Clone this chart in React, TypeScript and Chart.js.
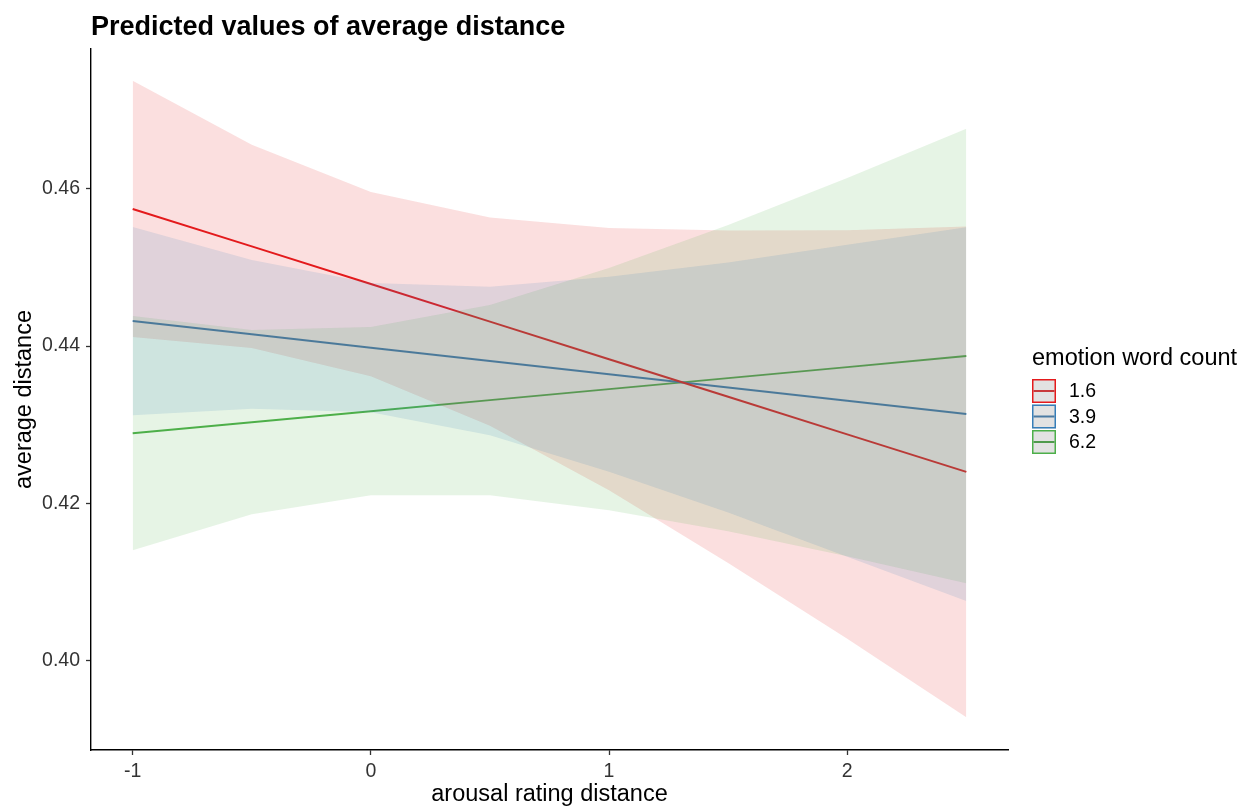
import React, { useEffect, useRef } from "react";
import { Chart, registerables } from "chart.js";

Chart.register(...registerables);

// ---- data ----
const xValues = [-1, -0.5, 0, 0.5, 1, 1.5, 2, 2.5];
const groupLabels = ["1.6", "3.9", "6.2"];

const pred16 = [0.45745, 0.45268, 0.44789, 0.44311, 0.43833, 0.43354, 0.42876, 0.42399];
const high16 = [0.47376, 0.46561, 0.45961, 0.45636, 0.45502, 0.45469, 0.45475, 0.4552];
const low16 = [0.44114, 0.43975, 0.43617, 0.42986, 0.42164, 0.41239, 0.40277, 0.39278];

const pred39 = [0.44318, 0.44149, 0.4398, 0.4381, 0.43642, 0.43473, 0.43303, 0.43134];
const high39 = [0.45516, 0.45096, 0.44803, 0.44755, 0.44883, 0.45064, 0.45288, 0.45512];
const low39 = [0.43121, 0.43203, 0.43157, 0.42865, 0.42401, 0.41882, 0.41318, 0.40756];

const pred62 = [0.42892, 0.43032, 0.43172, 0.43312, 0.43452, 0.43592, 0.43732, 0.43873];
const high62 = [0.44382, 0.44204, 0.44242, 0.44522, 0.44993, 0.45541, 0.4614, 0.46765];
const low62 = [0.41402, 0.4186, 0.42102, 0.42102, 0.41911, 0.41643, 0.41324, 0.40981];

const xTicks = [-1, 0, 1, 2];
const yTicks = [0.4, 0.42, 0.44, 0.46];

const titleText = "Predicted values of average distance";
const xTitle = "arousal rating distance";
const yTitle = "average distance";
const legendTitle = "emotion word count";

const lineColors = ["#E41A1C", "#377EB8", "#4DAF4A"];
const fillColors = ["rgba(228,26,28,0.14)", "rgba(55,126,184,0.14)", "rgba(77,175,74,0.14)"];
const keyLineColors = ["#C8393B", "#4A7AA3", "#4F9A4C"];
// stacking weight of each band (higher = drawn earlier / further back)
const bandOrders = [3, 1, 2];

const FONT = "'Liberation Sans', Arial, Helvetica, sans-serif";

const toPts = (ys: number[]) => xValues.map((x, i) => ({ x, y: ys[i] }));

const series = [
  { pred: pred16, high: high16, low: low16 },
  { pred: pred39, high: high39, low: low39 },
  { pred: pred62, high: high62, low: low62 },
];

const overlayPlugin = {
  id: "overlay",
  afterDraw(chart: any) {
    const ctx = chart.ctx as CanvasRenderingContext2D;
    const area = chart.chartArea;
    ctx.save();
    // title
    ctx.fillStyle = "#000";
    ctx.font = `bold 27px ${FONT}`;
    ctx.textAlign = "left";
    ctx.textBaseline = "alphabetic";
    ctx.fillText(titleText, area.left, 35);

    // legend
    const lx = area.right + 24;
    ctx.font = `23.5px ${FONT}`;
    ctx.fillText(legendTitle, lx, 365);
    const centers = [391, 416.5, 442];
    groupLabels.forEach((lab, i) => {
      const cy = centers[i];
      const top = cy - 12;
      ctx.fillStyle = "#E2E2E2";
      ctx.fillRect(lx, top, 24, 24);
      ctx.strokeStyle = lineColors[i];
      ctx.lineWidth = 1.5;
      ctx.strokeRect(lx + 0.75, top + 0.75, 22.5, 22.5);
      ctx.strokeStyle = keyLineColors[i];
      ctx.lineWidth = 2;
      ctx.beginPath();
      ctx.moveTo(lx + 1.5, cy);
      ctx.lineTo(lx + 22.5, cy);
      ctx.stroke();
      ctx.fillStyle = "#000";
      ctx.font = `19.5px ${FONT}`;
      ctx.textBaseline = "middle";
      ctx.fillText(lab, lx + 37, cy + 1);
      ctx.textBaseline = "alphabetic";
    });
    ctx.restore();
  },
};

export default function App() {
  const ref = useRef<HTMLCanvasElement | null>(null);

  useEffect(() => {
    if (!ref.current) return;
    const datasets: any[] = [];
    series.forEach((s, i) => {
      datasets.push({
        label: groupLabels[i] + " high",
        data: toPts(s.high),
        borderColor: "transparent",
        borderWidth: 0,
        pointRadius: 0,
        backgroundColor: fillColors[i],
        fill: "+1",
        order: bandOrders[i],
        tension: 0,
      });
      datasets.push({
        label: groupLabels[i] + " low",
        data: toPts(s.low),
        borderColor: "transparent",
        borderWidth: 0,
        pointRadius: 0,
        backgroundColor: "transparent",
        fill: false,
        order: bandOrders[i],
        tension: 0,
      });
    });
    series.forEach((s, i) => {
      datasets.push({
        label: groupLabels[i],
        data: toPts(s.pred),
        borderColor: lineColors[i],
        borderWidth: 2,
        pointRadius: 0,
        fill: false,
        order: 10,
        tension: 0,
      });
    });

    const axisFont = { family: FONT, size: 19.5 };
    const titleFont = { family: FONT, size: 23.5 };

    const chart = new Chart(ref.current, {
      type: "line",
      data: { datasets },
      options: {
        animation: false,
        responsive: true,
        maintainAspectRatio: false,
        layout: { padding: { top: 49, right: 242, bottom: 0, left: 0 } },
        plugins: {
          legend: { display: false },
          tooltip: { enabled: false },
          title: { display: false },
        },
        scales: {
          x: {
            type: "linear",
            min: -1.175,
            max: 2.675,
            afterBuildTicks: (s: any) => {
              s.ticks = xTicks.map((v) => ({ value: v }));
            },
            afterFit: (s: any) => {
              s.height = 59;
            },
            grid: {
              drawOnChartArea: false,
              drawTicks: true,
              tickLength: 5,
              tickColor: "#333",
              tickWidth: 1.3,
            },
            border: { display: true, color: "#000", width: 1.4 },
            ticks: {
              font: axisFont,
              color: "#333",
              padding: 5,
              maxRotation: 0,
              callback: (v: any) => String(v),
            },
            title: {
              display: true,
              text: xTitle,
              font: titleFont,
              color: "#000",
              padding: { top: 0, bottom: 0 },
            },
          },
          y: {
            type: "linear",
            min: 0.3886,
            max: 0.4778,
            afterBuildTicks: (s: any) => {
              s.ticks = yTicks.map((v) => ({ value: v }));
            },
            afterFit: (s: any) => {
              s.width = 91;
            },
            grid: {
              drawOnChartArea: false,
              drawTicks: true,
              tickLength: 5,
              tickColor: "#333",
              tickWidth: 1.3,
            },
            border: { display: true, color: "#000", width: 1.4 },
            ticks: {
              font: axisFont,
              color: "#333",
              padding: 6,
              callback: (v: any) => Number(v).toFixed(2),
            },
            title: {
              display: true,
              text: yTitle,
              font: titleFont,
              color: "#000",
              padding: { top: 10, bottom: 0 },
            },
          },
        },
      },
      plugins: [overlayPlugin],
    });
    return () => chart.destroy();
  }, []);

  return (
    <div style={{ position: "absolute", left: 0, top: 0, width: 1250, height: 809, background: "#fff" }}>
      <canvas ref={ref} />
    </div>
  );
}
